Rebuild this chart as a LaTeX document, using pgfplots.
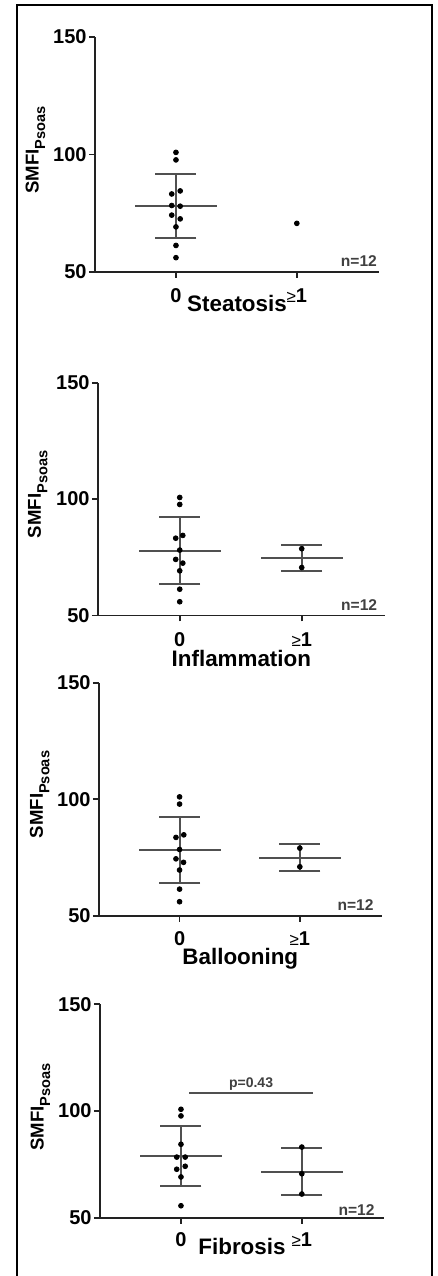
\documentclass[border=0pt]{standalone}
\usepackage{fontspec}
\setmainfont{Liberation Sans}
\usepackage{pgfplots}
\pgfplotsset{compat=1.18}

\definecolor{axgray}{HTML}{222222}
\definecolor{bargray}{HTML}{505050}
\definecolor{txtgray}{HTML}{404040}

\tikzset{
  nlabel/.style={anchor=base east, text=txtgray, inner sep=0pt,
                 font=\bfseries\fontsize{7.8}{7.8}\selectfont},
}

\pgfplotsset{
  dotplot/.style={
    scale only axis,
    anchor=south west,
    xmin=-0.67, xmax=1.68,
    ymin=50, ymax=150,
    ytick={50,100,150},
    xtick={0,1},
    xticklabels={0,{\fontsize{8.5}{8.5}\selectfont\mdseries ≥}1},
    axis lines=left,
    axis line style={-, line width=0.85pt, axgray},
    tick style={line width=0.85pt, axgray},
    tick align=outside,
    major tick length=3pt,
    /pgf/number format/assume math mode=true,
    tick label style={font=\bfseries\fontsize{10}{10}\selectfont},
    yticklabel style={inner sep=1pt},
    ylabel={SMFI\raisebox{-0.35em}{\fontsize{7.3}{7.3}\selectfont Psoas}},
    ylabel style={at={(axis description cs:-0.21,0.52)}, anchor=center,
                  font=\bfseries\fontsize{9.3}{9.3}\selectfont},
    xlabel style={at={(axis description cs:0.5,0)}, anchor=base,
                  font=\bfseries\fontsize{11.2}{11.2}\selectfont},
    clip=false,
  },
  meanbar/.style={
    only marks, mark=-, mark size=20.5pt,
    mark options={bargray, line width=1pt},
    error bars/.cd, y dir=both, y explicit,
    error bar style={bargray, line width=1pt},
    error mark options={bargray, line width=1pt, mark size=10.25pt, rotate=90},
  },
  dots/.style={only marks, mark=*, mark size=1.2pt, black},
}

\begin{document}
\begin{tikzpicture}
\useasboundingbox (0,0) rectangle (219pt,638pt);
\draw[line width=1pt, black] (8.5pt,-2pt) -- (8.5pt,635.5pt) -- (216pt,635.5pt) -- (216pt,-2pt);

% Steatosis
\begin{axis}[dotplot, at={(47.5pt,502pt)}, width=142pt, height=117.5pt,
  xlabel={Steatosis},
  xlabel style={yshift=-19.85pt},
  xticklabel style={anchor=base, yshift=-12.35pt}]
\addplot[meanbar] coordinates {(0,77.95) +- (0,13.65)};
\addplot[dots] coordinates {
  (0,100.9) (0,97.7) (0.035,84.5) (-0.035,83.2) (-0.035,78.3) (0.035,78.0)
  (-0.035,74.2) (0.035,72.6) (0,69.2) (0,61.3) (0,56.1)
  (1,70.7)
};
\node[nlabel] at (rel axis cs:1,0) [xshift=-0.85pt, yshift=2.65pt] {n=12};
\end{axis}

% Inflammation
\begin{axis}[dotplot, at={(49pt,330.25pt)}, width=141pt, height=116.4pt,
  xlabel={Inflammation},
  xlabel style={yshift=-25.6pt},
  xticklabel style={anchor=base, yshift=-12.6pt}]
\addplot[meanbar] coordinates {(0,77.8) +- (0,14.3) (1,74.55) +- (0,5.65)};
\addplot[dots] coordinates {
  (0,100.7) (0,97.7) (0.025,84.4) (-0.033,83.2) (0,78.1)
  (-0.033,74.1) (0.025,72.5) (0,69.2) (0,61.3) (0,55.9)
  (1,78.7) (1,70.6)
};
\node[nlabel] at (rel axis cs:1,0) [xshift=-3.6pt, yshift=2.4pt] {n=12};
\end{axis}

% Ballooning
\begin{axis}[dotplot, at={(49.5pt,180.15pt)}, width=141.3pt, height=116.5pt,
  xlabel={Ballooning},
  xlabel style={yshift=-24.65pt},
  xticklabel style={anchor=base, yshift=-12.15pt}]
\addplot[meanbar] coordinates {(0,78.15) +- (0,14.25) (1,74.95) +- (0,5.65)};
\addplot[dots] coordinates {
  (0,101.0) (0,97.9) (0.035,84.7) (-0.03,83.6) (0,78.4)
  (-0.03,74.4) (0.033,72.9) (0,69.6) (0,61.4) (0,56.0)
  (1,79.0) (1,71.0)
};
\node[nlabel] at (rel axis cs:1,0) [xshift=-3.8pt, yshift=2.5pt] {n=12};
\end{axis}

% Fibrosis
\begin{axis}[dotplot, at={(50pt,29.15pt)}, width=142pt, height=106.7pt,
  xlabel={Fibrosis},
  xlabel style={yshift=-18.3pt},
  xticklabel style={anchor=base, yshift=-11.15pt}]
\addplot[bargray, line width=1.1pt] coordinates {(0.07,108.5) (1.09,108.5)};
\addplot[meanbar] coordinates {(0,79.0) +- (0,14.0) (1,71.6) +- (0,11.1)};
\addplot[dots] coordinates {
  (0,100.8) (0,97.7) (0,84.4) (-0.035,78.4) (0.035,78.4)
  (0.035,74.1) (-0.035,72.7) (0,69.1) (0,55.6)
  (1,83.1) (1,70.6) (1,61.1)
};
\node[anchor=base, inner sep=0pt, text=txtgray, font=\bfseries\fontsize{7}{7}\selectfont]
  at (axis cs:0.58,111.1) {p=0.43};
\node[nlabel] at (rel axis cs:1,0) [xshift=-4.5pt, yshift=1.35pt] {n=12};
\end{axis}
\end{tikzpicture}
\end{document}
